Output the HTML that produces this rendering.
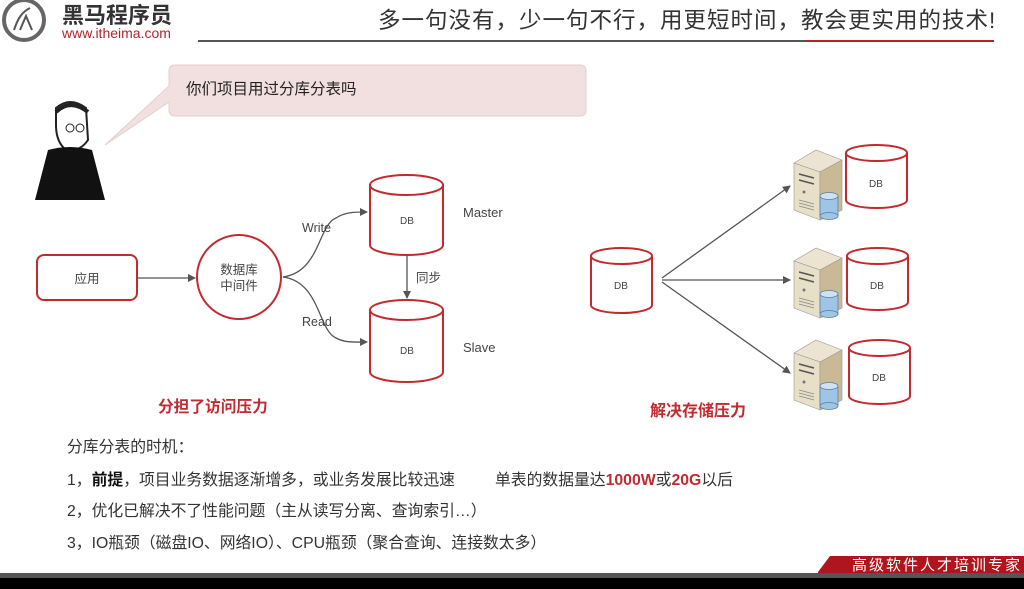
<!DOCTYPE html>
<html><head><meta charset="utf-8"><style>
html,body{margin:0;padding:0;width:1024px;height:589px;overflow:hidden;background:#fff}
svg{display:block}
text{font-family:"Liberation Sans","Noto Sans CJK SC",sans-serif}
</style></head><body>
<svg width="1024" height="589" viewBox="0 0 1024 589" xmlns="http://www.w3.org/2000/svg">
<defs>
<marker id="a" markerWidth="8" markerHeight="8" refX="7" refY="4" orient="auto" markerUnits="userSpaceOnUse"><path d="M0,0 L8,4 L0,8 z" fill="#555"/></marker>
<g id="srv">
<path d="M0,15 L22,2 L48,12 L26,24 z" fill="#ece4d0" stroke="#999" stroke-width="0.6"/>
<path d="M0,15 L26,24 L26,72 L0,62 z" fill="#e8dfc8" stroke="#999" stroke-width="0.6"/>
<path d="M26,24 L48,12 L48,62 L26,72 z" fill="#c9b994" stroke="#999" stroke-width="0.6"/>
<line x1="5" y1="26" x2="20" y2="30" stroke="#555" stroke-width="1.5"/>
<line x1="5" y1="32" x2="20" y2="36" stroke="#555" stroke-width="1.5"/>
<circle cx="10" cy="44" r="1.5" fill="#777"/>
<path d="M5,52 L20,56 M5,55 L20,59 M5,58 L20,62" stroke="#888" stroke-width="0.8"/>
<rect x="26" y="48" width="18" height="20" fill="#9ec4e6" stroke="#5a7fa0" stroke-width="0.8"/>
<ellipse cx="35" cy="48" rx="9" ry="3.5" fill="#cfe2f3" stroke="#5a7fa0" stroke-width="0.8"/>
<ellipse cx="35" cy="68" rx="9" ry="3.5" fill="#9ec4e6" stroke="#5a7fa0" stroke-width="0.8"/>
</g>
</defs>
<!-- header -->
<circle cx="24" cy="20" r="20" fill="#fff" stroke="#666" stroke-width="4"/>
<path d="M14,30 C18,18 22,12 30,8 M20,30 L26,16 L32,30" stroke="#555" stroke-width="2" fill="none"/>
<text x="62" y="23" font-size="22" font-weight="bold" fill="#333">黑马程序员</text>
<text x="62" y="38" font-size="14" fill="#b0252a">www.itheima.com</text>
<text x="378" y="28" font-size="22.5" fill="#333" font-family="'Noto Serif CJK SC',serif" letter-spacing="1">多一句没有，少一句不行，用更短时间，教会更实用的技术!</text>
<line x1="198" y1="41" x2="805" y2="41" stroke="#555" stroke-width="2"/>
<line x1="805" y1="41" x2="994" y2="41" stroke="#b0252a" stroke-width="2"/>
<!-- bubble -->
<path d="M175,65 L580,65 Q586,65 586,71 L586,110 Q586,116 580,116 L175,116 Q169,116 169,110 L169,102 L105,145 L169,86 L169,71 Q169,65 175,65 z" fill="#f2dfe0" stroke="#e6cfd0"/>
<text x="186" y="94" font-size="15.5" fill="#222">你们项目用过分库分表吗</text>
<!-- person -->
<path d="M56,108 Q70,96 86,108 L88,140 Q80,152 66,150 Q56,142 56,125 z" fill="#fff" stroke="#222" stroke-width="2"/>
<path d="M56,112 Q70,98 88,112" stroke="#222" stroke-width="4" fill="none"/>
<circle cx="70" cy="128" r="4" fill="none" stroke="#222"/><circle cx="80" cy="128" r="4" fill="none" stroke="#222"/>
<path d="M48,150 Q70,144 92,150 L105,200 L35,200 z" fill="#111"/>
<!-- left diagram -->
<rect x="37" y="255" width="100" height="45" rx="7" fill="#fff" stroke="#c22a30" stroke-width="2"/>
<text x="87" y="283" font-size="12.5" fill="#444" text-anchor="middle">应用</text>
<line x1="137" y1="278" x2="195" y2="278" stroke="#555" stroke-width="1.3" marker-end="url(#a)"/>
<circle cx="239" cy="277" r="42" fill="#fff" stroke="#c22a30" stroke-width="2"/>
<text x="239" y="274" font-size="12.5" fill="#444" text-anchor="middle">数据库</text>
<text x="239" y="290" font-size="12.5" fill="#444" text-anchor="middle">中间件</text>
<path d="M283,277 C320,272 318,225 336,218 C345,212 355,212 367,212" stroke="#555" stroke-width="1.3" fill="none" marker-end="url(#a)"/>
<path d="M283,277 C320,282 318,330 336,338 C345,343 355,342 367,342" stroke="#555" stroke-width="1.3" fill="none" marker-end="url(#a)"/>
<text x="302" y="232" font-size="12.5" fill="#444">Write</text>
<text x="302" y="326" font-size="12.5" fill="#444">Read</text>
<g fill="#fff" stroke="#c22a30" stroke-width="2">
<path d="M370,185 L370,245 A36.5,10 0 0 0 443,245 L443,185"/><ellipse cx="406.5" cy="185" rx="36.5" ry="10"/>
<path d="M370,310 L370,372 A36.5,10 0 0 0 443,372 L443,310"/><ellipse cx="406.5" cy="310" rx="36.5" ry="10"/>
</g>
<text x="407" y="224" font-size="10" fill="#444" text-anchor="middle">DB</text>
<text x="407" y="354" font-size="10" fill="#444" text-anchor="middle">DB</text>
<text x="463" y="217" font-size="13" fill="#444">Master</text>
<text x="463" y="352" font-size="13" fill="#444">Slave</text>
<line x1="407" y1="256" x2="407" y2="298" stroke="#555" stroke-width="1.3" marker-end="url(#a)"/>
<text x="416" y="282" font-size="12.5" fill="#444">同步</text>
<text x="158" y="412" font-size="15.7" font-weight="bold" fill="#c22a30">分担了访问压力</text>
<!-- right diagram -->
<g fill="#fff" stroke="#c22a30" stroke-width="2">
<path d="M591,256 L591,305 A30.5,8 0 0 0 652,305 L652,256"/><ellipse cx="621.5" cy="256" rx="30.5" ry="8"/>
<path d="M846,153 L846,200 A30.5,8 0 0 0 907,200 L907,153"/><ellipse cx="876.5" cy="153" rx="30.5" ry="8"/>
<path d="M847,256 L847,302 A30.5,8 0 0 0 908,302 L908,256"/><ellipse cx="877.5" cy="256" rx="30.5" ry="8"/>
<path d="M849,348 L849,396 A30.5,8 0 0 0 910,396 L910,348"/><ellipse cx="879.5" cy="348" rx="30.5" ry="8"/>
</g>
<text x="621" y="289" font-size="10" fill="#444" text-anchor="middle">DB</text>
<text x="876" y="187" font-size="10" fill="#444" text-anchor="middle">DB</text>
<text x="877" y="289" font-size="10" fill="#444" text-anchor="middle">DB</text>
<text x="879" y="381" font-size="10" fill="#444" text-anchor="middle">DB</text>
<line x1="662" y1="278" x2="790" y2="186" stroke="#555" stroke-width="1.3" marker-end="url(#a)"/>
<line x1="662" y1="280" x2="790" y2="280" stroke="#555" stroke-width="1.3" marker-end="url(#a)"/>
<line x1="662" y1="282" x2="790" y2="373" stroke="#555" stroke-width="1.3" marker-end="url(#a)"/>
<use href="#srv" x="794" y="148"/>
<use href="#srv" x="794" y="246"/>
<use href="#srv" x="794" y="338"/>
<text x="650" y="416" font-size="16" font-weight="bold" fill="#c22a30">解决存储压力</text>
<!-- text -->
<g font-size="15.8" fill="#333">
<text x="67" y="452">分库分表的时机：</text>
<text x="67" y="485">1，<tspan font-weight="bold" fill="#111">前提</tspan>，项目业务数据逐渐增多，或业务发展比较迅速</text>
<text x="495" y="485">单表的数据量达<tspan font-weight="bold" fill="#c22a30">1000W</tspan>或<tspan font-weight="bold" fill="#c22a30">20G</tspan>以后</text>
<text x="67" y="516">2，优化已解决不了性能问题（主从读写分离、查询索引…）</text>
<text x="67" y="548">3，IO瓶颈（磁盘IO、网络IO）、CPU瓶颈（聚合查询、连接数太多）</text>
</g>
<!-- footer -->
<path d="M818,572 L830,556 L1024,556 L1024,574 L818,574 z" fill="#b0141c"/>
<text x="852" y="570" font-size="15" fill="#fff" font-family="'Noto Serif CJK SC',serif" letter-spacing="2">高级软件人才培训专家</text>
<rect x="0" y="573" width="1024" height="5" fill="#555"/>
<rect x="0" y="578" width="1024" height="11" fill="#000"/>
</svg>
</body></html>
